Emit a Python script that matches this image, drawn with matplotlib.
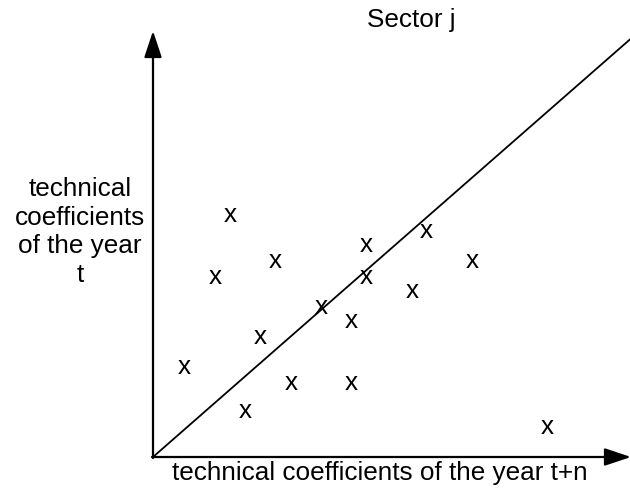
import matplotlib
matplotlib.use("Agg")
import matplotlib.pyplot as plt
import matplotlib.transforms as mtransforms

# Scatter of "x" markers (data units: pixels from the origin of the axes)
pts_x = [77, 62, 122, 213, 273, 319, 213, 259, 168, 198, 107, 31, 138, 198, 92, 394]
pts_y = [241, 180, 195, 211, 226, 195, 180, 165, 150, 135, 120, 90, 74, 74, 45, 29]

# 45-degree-like reference line
diag_x = [0, 490]
diag_y = [0, 429]

title = "Sector j"
xlabel = "technical coefficients of the year t+n"
ylabel = "technical\ncoefficients\nof the year\nt"

plt.rcParams['font.family'] = ['Liberation Sans', 'DejaVu Sans']

fig = plt.figure(figsize=(6.3, 4.88), dpi=100)
ax = fig.add_axes([0, 0, 1, 1])
ax.set_xlim(-153, 477)
ax.set_ylim(-31, 457)
ax.axis('off')

fs = 18.8

ax.plot(diag_x, diag_y, color='black', lw=1.3, solid_capstyle='butt')

# axes with arrows
arrow = dict(arrowstyle='-|>,head_length=0.9,head_width=0.3',
             color='black', lw=1.6, shrinkA=0, shrinkB=0, mutation_scale=18)
ax.annotate("", xy=(0, 426), xytext=(0, -1), arrowprops=arrow, annotation_clip=False)
ax.annotate("", xy=(478, 0), xytext=(-1, 0), arrowprops=arrow, annotation_clip=False)

off = mtransforms.offset_copy(ax.transData, fig=fig, x=0, y=-6.5 / 100, units='inches')
for x, y in zip(pts_x, pts_y):
    ax.text(x, y, "x", fontsize=fs, ha='center', va='baseline', transform=off)

ax.text(258, 430, title, fontsize=fs, ha='center', va='baseline')
ax.text(227, -23, xlabel, fontsize=fs, ha='center', va='baseline')
ax.text(-73, 175, ylabel, fontsize=fs, ha='center', va='baseline', linespacing=1.245,
        multialignment='center')

fig.savefig("out.png", dpi=100)
